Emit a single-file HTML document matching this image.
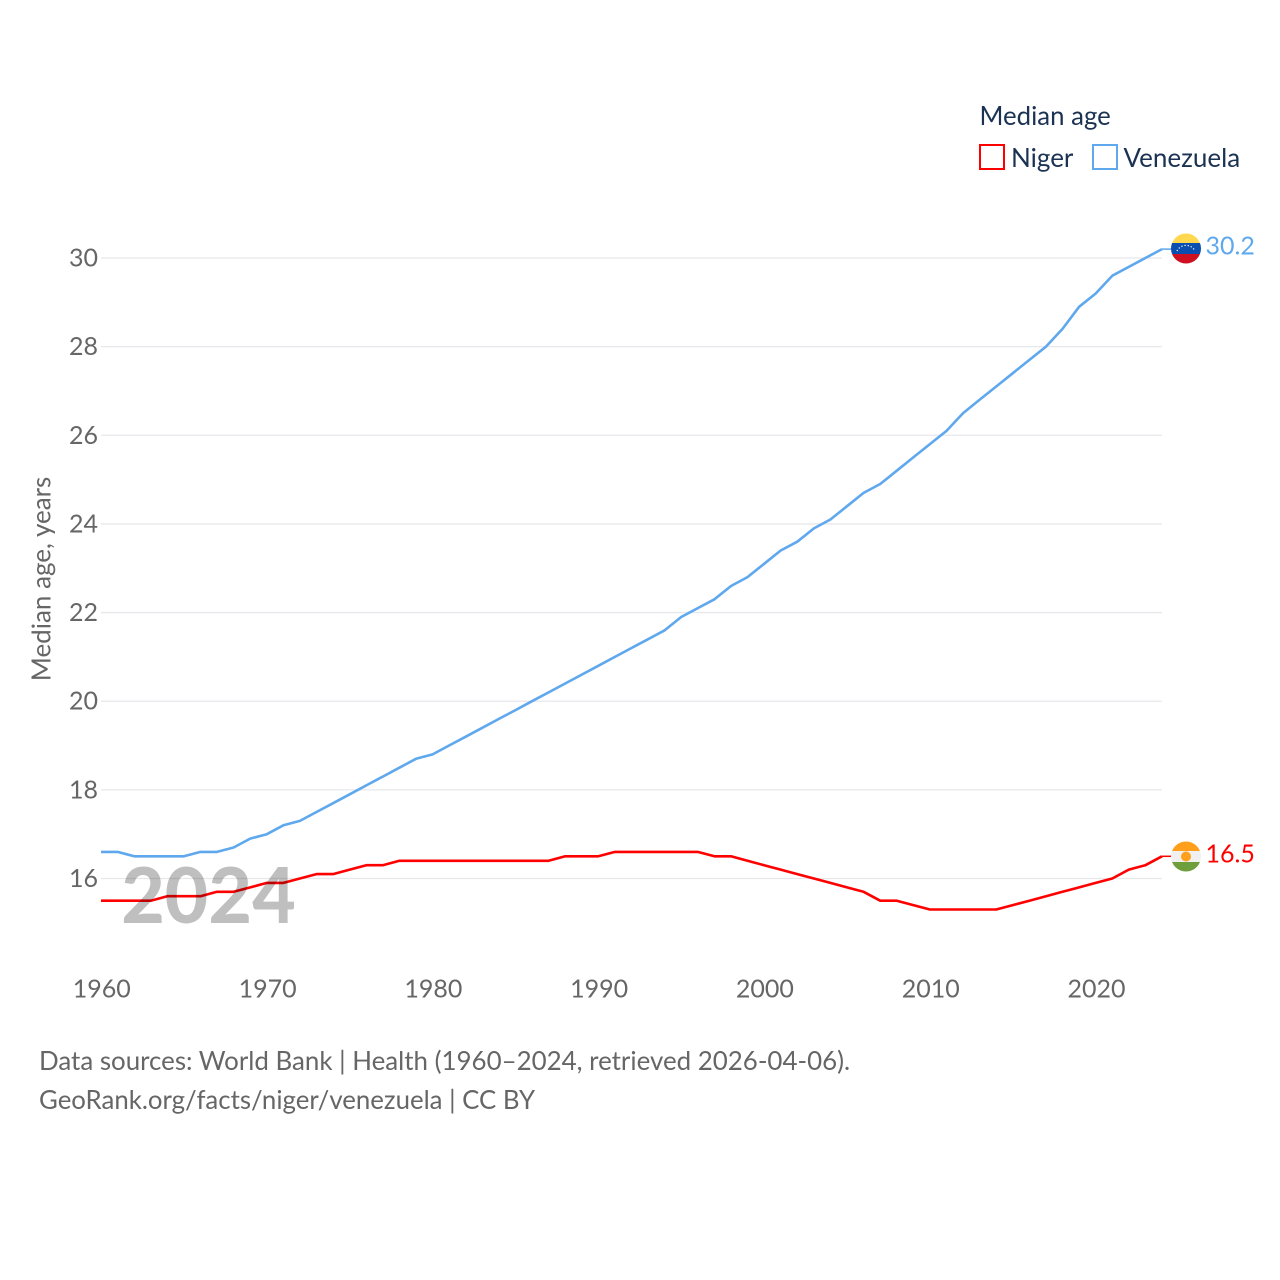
<!DOCTYPE html>
<html><head><meta charset="utf-8"><title>Median age: Niger and Venezuela</title>
<style>
html,body{margin:0;padding:0;background:#fff;width:1280px;height:1280px;overflow:hidden}
svg{display:block}
text{font-family:"Lato","Carlito","Liberation Sans",sans-serif}
</style></head><body>
<svg id="chart" width="1280" height="1280" viewBox="0 0 1280 1280" xmlns="http://www.w3.org/2000/svg">
<defs>
<clipPath id="ve-clip"><circle cx="1186" cy="248.5" r="15"/></clipPath>
<clipPath id="ne-clip"><circle cx="1186" cy="856.5" r="15"/></clipPath>
</defs>
<g id="grid"></g>
<g id="yticks"></g>
<g id="xticks"></g>
<g id="series"></g>
<text x="121" y="923" style="font-family:'Carlito','Lato',sans-serif" font-weight="700" font-size="86" fill="#000" fill-opacity="0.25">2024</text>
<text transform="translate(50.5,579) rotate(-90)" text-anchor="middle" font-size="26" fill="#666">Median age, years</text>

<g clip-path="url(#ve-clip)">
<rect x="1171" y="233" width="30" height="10" fill="#ffd84f"/>
<rect x="1171" y="243" width="30" height="11" fill="#0a4fb0"/>
<rect x="1171" y="254" width="30" height="11" fill="#cf1020"/>
<path d="M1177 251 A10 10 0 0 1 1195 251" fill="none" stroke="#fff" stroke-width="1.2" stroke-dasharray="1.2 2"/>
</g>
<text x="1205.5" y="254.5" font-size="25" fill="#5fa8ee">30.2</text>

<g clip-path="url(#ne-clip)">
<rect x="1171" y="841" width="30" height="10" fill="#ff9f1c"/>
<rect x="1171" y="851" width="30" height="11" fill="#f0f0f0"/>
<rect x="1171" y="862" width="30" height="11" fill="#6f9f3c"/>
<circle cx="1186" cy="856.5" r="5" fill="#ff9f1c"/>
</g>
<text x="1205.5" y="862.5" font-size="25" fill="#ff0000">16.5</text>

<g>
<text x="979.5" y="125" font-size="25.8" fill="#1b3253">Median age</text>
<rect x="980" y="145" width="24" height="24" fill="#fff" stroke="#ff0000" stroke-width="2"/>
<text x="1011" y="167" font-size="26" fill="#1b3253">Niger</text>
<rect x="1093" y="145" width="24" height="24" fill="#fff" stroke="#5fa8ee" stroke-width="2"/>
<text x="1123.5" y="167" font-size="26" fill="#1b3253">Venezuela</text>
</g>

<text x="39" y="1070" font-size="25.9" fill="#666">Data sources: World Bank | Health (1960–2024, retrieved 2026-04-06).</text>
<text x="39" y="1109" font-size="25.8" fill="#666">GeoRank.org/facts/niger/venezuela | CC BY</text>
</svg>
<script>
var startYear = 1960;
var yTicks = [16, 18, 20, 22, 24, 26, 28, 30];
var xTicks = [1960, 1970, 1980, 1990, 2000, 2010, 2020];
var venezuela = [16.6,16.6,16.5,16.5,16.5,16.5,16.6,16.6,16.7,16.9,17.0,17.2,17.3,17.5,17.7,17.9,18.1,18.3,18.5,18.7,18.8,19.0,19.2,19.4,19.6,19.8,20.0,20.2,20.4,20.6,20.8,21.0,21.2,21.4,21.6,21.9,22.1,22.3,22.6,22.8,23.1,23.4,23.6,23.9,24.1,24.4,24.7,24.9,25.2,25.5,25.8,26.1,26.5,26.8,27.1,27.4,27.7,28.0,28.4,28.9,29.2,29.6,29.8,30.0,30.2];
var niger = [15.5,15.5,15.5,15.5,15.6,15.6,15.6,15.7,15.7,15.8,15.9,15.9,16.0,16.1,16.1,16.2,16.3,16.3,16.4,16.4,16.4,16.4,16.4,16.4,16.4,16.4,16.4,16.4,16.5,16.5,16.5,16.6,16.6,16.6,16.6,16.6,16.6,16.5,16.5,16.4,16.3,16.2,16.1,16.0,15.9,15.8,15.7,15.5,15.5,15.4,15.3,15.3,15.3,15.3,15.3,15.4,15.5,15.6,15.7,15.8,15.9,16.0,16.2,16.3,16.5];

var NS = 'http://www.w3.org/2000/svg';
function xScale(year) { return 101 + (year - 1960) * (1061 / 64); }
function yScale(v) { return 878.5 - (v - 16) * (620.5 / 14); }
function make(tag, attrs, parent) {
  var el = document.createElementNS(NS, tag);
  for (var k in attrs) el.setAttribute(k, attrs[k]);
  parent.appendChild(el);
  return el;
}
var gridG = document.getElementById('grid');
var yG = document.getElementById('yticks');
var xG = document.getElementById('xticks');
var seriesG = document.getElementById('series');

yTicks.forEach(function (t) {
  var line = make('line', {x1: 101, x2: 1162, y1: yScale(t), y2: yScale(t), stroke: '#e6e8ec', 'stroke-width': 1.3}, gridG);
  
  
  var label = make('text', {x: 98, y: yScale(t) + 8.5, 'text-anchor': 'end', 'font-size': 25, fill: '#666'}, yG);
  
  
  label.textContent = t;
});
xTicks.forEach(function (t) {
  var label = make('text', {x: xScale(t) + 0.8, y: 997.5, 'text-anchor': 'middle', 'font-size': 25, fill: '#666'}, xG);
  
  
  label.textContent = t;
});
function drawSeries(values, color, name) {
  var pts = values.map(function (v, i) { return xScale(startYear + i).toFixed(1) + ',' + yScale(v).toFixed(1); });
  var lastY = yScale(values[values.length - 1]).toFixed(1);
  var line = make('polyline', {points: pts.join(' '), fill: 'none', stroke: color, 'stroke-width': 2.6, 'stroke-linejoin': 'round'}, seriesG);
  
  
  var link = make('line', {x1: xScale(startYear + values.length - 1), x2: 1171, y1: lastY, y2: lastY, stroke: color, 'stroke-width': 1.5}, seriesG);
  
  
}
drawSeries(venezuela, '#5fa8ee', 'venezuela');
drawSeries(niger, '#ff0000', 'niger');
</script>
</body></html>
